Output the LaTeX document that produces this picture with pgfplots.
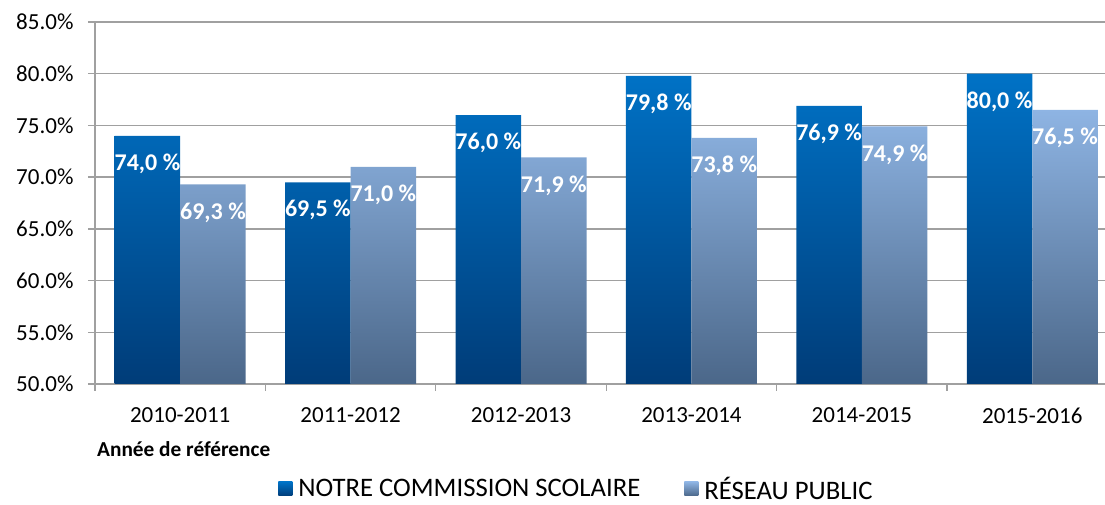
\documentclass[border=0pt]{standalone}
\usepackage{pgfplots}
\pgfplotsset{compat=1.18}
\usepackage{fontspec}
\setmainfont{Carlito}
\definecolor{darkTop}{RGB}{0,114,198}
\definecolor{darkBot}{RGB}{0,60,120}
\definecolor{lightTop}{RGB}{142,180,227}
\definecolor{lightBot}{RGB}{75,103,137}
\definecolor{gridc}{RGB}{160,160,160}
\begin{document}
\begin{tikzpicture}
\path[use as bounding box] (0,0) rectangle (1105pt,505pt);
\begin{axis}[
  at={(95pt,121pt)}, anchor=south west,
  scale only axis, width=1010pt, height=362pt,
  xmin=-0.5, xmax=5.427,
  ymin=50, ymax=85,
  y coord trafo/.code={\pgfmathparse{#1-50}},
  y coord inv trafo/.code={\pgfmathparse{#1+50}},
  axis x line*=bottom, axis y line*=left,
  axis line style={gridc, line width=1.3pt},
  ymajorgrids, grid style={gridc, line width=1.3pt},
  xtick={-0.5,0.5,1.5,2.5,3.5,4.5},
  xticklabels={2010-2011,2011-2012,2012-2013,2013-2014,2014-2015,2015-2016},
  xticklabel style={xshift=85.2pt, yshift=-13pt},
  ytick={50,55,60,65,70,75,80,85},
  yticklabels={50.0\%,55.0\%,60.0\%,65.0\%,70.0\%,75.0\%,80.0\%,85.0\%},
  yticklabel style={xshift=-11pt},
  tick align=outside, major tick length=7pt,
  tick style={gridc, line width=1.3pt},
  tick label style={font=\fontsize{23}{27}\selectfont, text=black},
  ybar=0pt, bar width=65.5pt,
  legend style={at={(0.4767,-0.290)}, anchor=center, draw=none,
    font=\fontsize{26.7}{30}\selectfont, legend columns=2,
    /tikz/every even column/.append style={column sep=42pt}},
  every node near coord/.append style={font=\bfseries\fontsize{24}{28}\selectfont, text=white, anchor=center, yshift=-28pt},
]
\addplot[draw=none, top color=darkTop, bottom color=darkBot, point meta=rawy,
  nodes near coords={\pgfmathprintnumber[fixed,fixed zerofill,precision=1,use comma,assume math mode=true]{\pgfplotspointmeta}~\%},
  legend image code/.code={\path[draw=none, top color=darkTop, bottom color=darkBot] (0pt,-7pt) rectangle (14pt,7pt); \path (18pt,0pt);}]
  coordinates {(0,74.0) (1,69.5) (2,76.0) (3,79.8) (4,76.9) (5,80.0)};
\addplot[draw=none, top color=lightTop, bottom color=lightBot, point meta=rawy,
  nodes near coords={\pgfmathprintnumber[fixed,fixed zerofill,precision=1,use comma,assume math mode=true]{\pgfplotspointmeta}~\%},
  legend image code/.code={\path[draw=none, top color=lightTop, bottom color=lightBot] (0pt,-7pt) rectangle (14pt,7pt); \path (18pt,0pt);}]
  coordinates {(0,69.3) (1,71.0) (2,71.9) (3,73.8) (4,74.9) (5,76.5)};
\legend{NOTRE COMMISSION SCOLAIRE, RÉSEAU PUBLIC}
\end{axis}
\node[anchor=west, font=\bfseries\fontsize{21.3}{25}\selectfont, inner sep=0pt] at (97pt,56pt) {Année de référence};
\end{tikzpicture}
\end{document}
